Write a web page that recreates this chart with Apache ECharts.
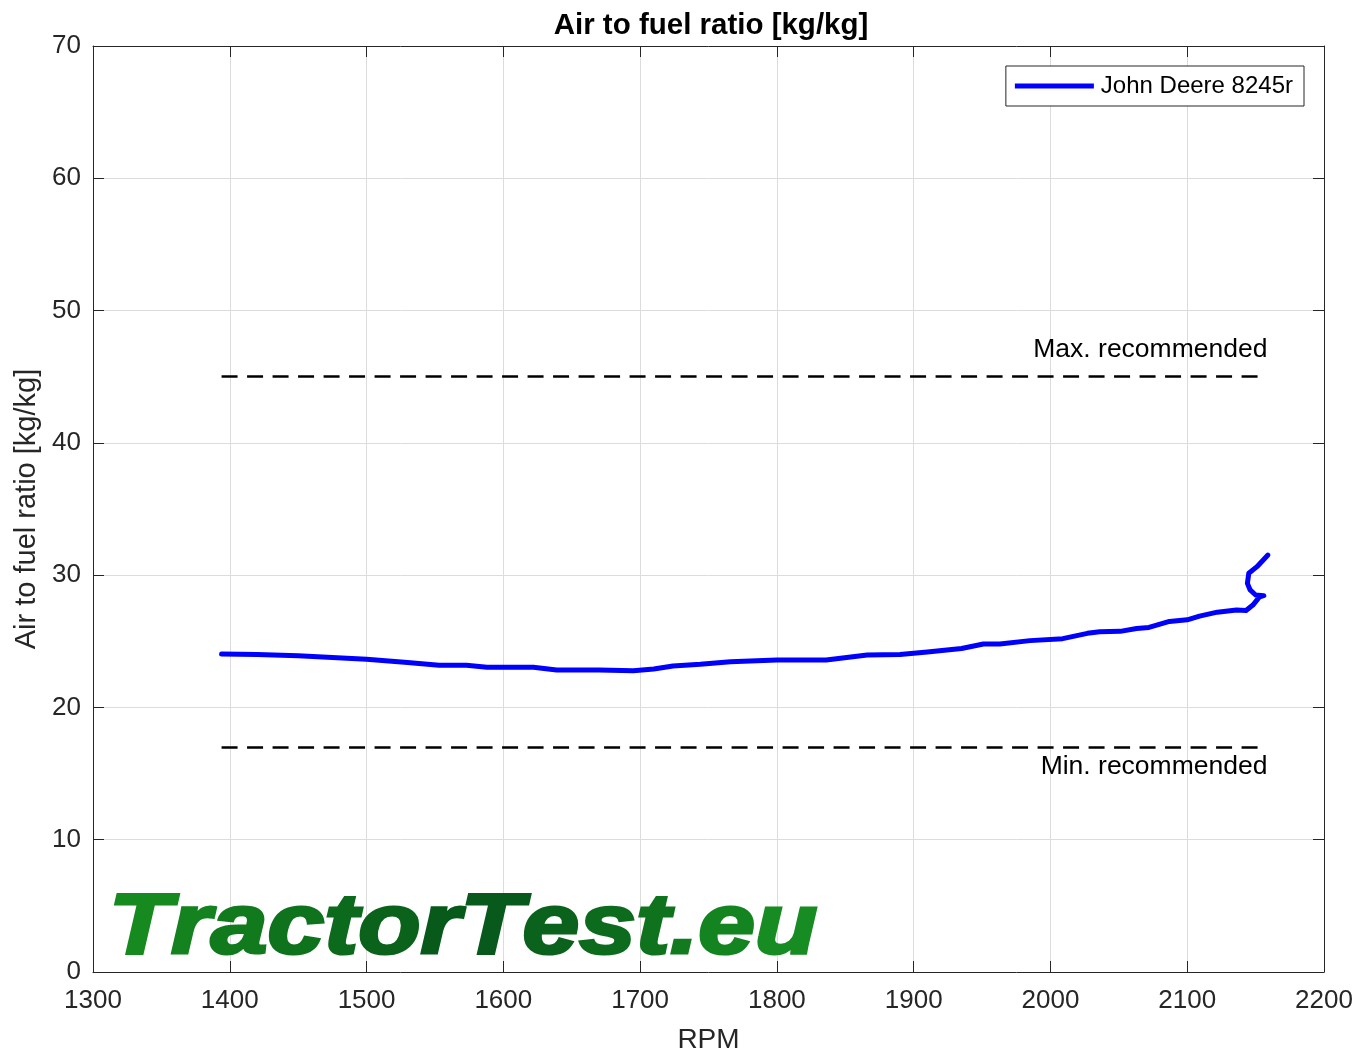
<!DOCTYPE html>
<html>
<head>
<meta charset="utf-8">
<script src="https://cdn.jsdelivr.net/npm/echarts@6/dist/echarts.min.js"></script>
<style>html,body{margin:0;padding:0;background:#fff}#c{width:1359px;height:1056px}</style>
</head>
<body>
<div id="c"></div>
<script>
var seriesName = 'John Deere 8245r';
var rpm = [1394,1420,1450,1500,1530,1553,1573,1588,1622,1639,1670,1695,1710,1724,1744,1766,1800,1836,1866,1890,1910,1935,1951,1963,1985,2009,2027,2036,2051,2063,2072,2087,2100,2109,2122,2136,2143,2148,2153,2156,2150,2146,2144,2145,2151,2159];
var afr = [24.04,24.0,23.9,23.64,23.4,23.18,23.18,23.03,23.03,22.83,22.82,22.78,22.9,23.13,23.26,23.46,23.58,23.58,23.96,24.0,24.19,24.45,24.79,24.79,25.05,25.2,25.6,25.72,25.75,25.97,26.05,26.5,26.62,26.9,27.2,27.36,27.33,27.74,28.37,28.45,28.5,28.88,29.38,30.14,30.64,31.52];
var maxRec = {name:'Max. recommended', value:45, from:1394, to:2155};
var minRec = {name:'Min. recommended', value:17, from:1394, to:2155};
var xTicks = {min:1300, max:2200, interval:100};
var yTicks = {min:0, max:70, interval:10};
var logoText = 'TractorTest.eu';

var curve = rpm.map(function(r,i){return [r, afr[i]];});
var axisColor = '#262626';
var font = 'Liberation Sans, Arial, Helvetica, sans-serif';

function xAx(pos, show){
  return {type:'value', position:pos, min:xTicks.min, max:xTicks.max, interval:xTicks.interval,
    axisLine:{show:true, onZero:false, lineStyle:{color:axisColor, width:1}},
    axisTick:{show:true, inside:true, length:11, lineStyle:{color:axisColor}},
    axisLabel:{show:show, color:axisColor, fontSize:26, fontFamily:font, margin:16, formatter:function(v){return String(v);}},
    splitLine:{show:show, lineStyle:{color:'#dcdcdc', width:1}},
    name: show ? 'RPM' : '', nameLocation:'middle', nameGap:54,
    nameTextStyle:{color:axisColor, fontSize:28, fontFamily:font}};
}
function yAx(pos, show){
  return {type:'value', position:pos, min:yTicks.min, max:yTicks.max, interval:yTicks.interval,
    axisLine:{show:true, onZero:false, lineStyle:{color:axisColor, width:1}},
    axisTick:{show:true, inside:true, length:11, lineStyle:{color:axisColor}},
    axisLabel:{show:show, color:axisColor, fontSize:26, fontFamily:font, margin:12, padding:[5,0,0,0], formatter:function(v){return String(v);}},
    splitLine:{show:show, lineStyle:{color:'#dcdcdc', width:1}},
    name: show ? 'Air to fuel ratio [kg/kg]' : '', nameLocation:'middle', nameGap:52,
    nameTextStyle:{color:axisColor, fontSize:29, fontFamily:font}};
}
function recLine(r, pos, dist){
  return {type:'line', data:[], silent:true, xAxisIndex:0, yAxisIndex:0,
    markLine:{silent:true, symbol:['none','none'], animation:false,
      lineStyle:{color:'#000', type:[16,9.5], width:2.5},
      label:{show:true, position:pos, formatter:r.name, color:'#000', fontSize:26.5, fontFamily:font, distance:dist},
      data:[[{coord:[r.from, r.value]},{coord:[r.to, r.value]}]]}};
}

// logo: per-letter colours approximating the green gradient
function mix(a, b, t){
  var pa = [parseInt(a.substr(1,2),16), parseInt(a.substr(3,2),16), parseInt(a.substr(5,2),16)];
  var pb = [parseInt(b.substr(1,2),16), parseInt(b.substr(3,2),16), parseInt(b.substr(5,2),16)];
  return 'rgb(' + pa.map(function(v,i){return Math.round(v + (pb[i]-v)*t);}).join(',') + ')';
}
var rich = {}, richText = '';
for (var i = 0; i < logoText.length; i++) {
  var t = i / (logoText.length - 1);
  var col = t < 0.5 ? mix('#168a1f', '#06561a', t / 0.5) : mix('#06561a', '#178c22', (t - 0.5) / 0.5);
  rich['c' + i] = {fill:col, stroke:col, lineWidth:3, fontSize:85, fontWeight:'bold', fontStyle:'italic', fontFamily:'Liberation Sans, Arial, sans-serif'};
  richText += '{c' + i + '|' + logoText[i] + '}';
}

var chart = echarts.init(document.getElementById('c'), null, {renderer:'canvas'});
chart.setOption({
  animation:false,
  backgroundColor:'#fff',
  title:{text:'Air to fuel ratio [kg/kg]', left:706, top:6, textAlign:'center',
    textStyle:{color:'#000', fontSize:29.5, fontWeight:'bold', fontFamily:font}},
  grid:{left:93, right:35, top:46, bottom:84, containLabel:false, outerBoundsMode:'none'},
  legend:{data:[seriesName], right:55, top:66, icon:'rect', itemWidth:79, itemHeight:5,
    backgroundColor:'#fff', borderColor:'#262626', borderWidth:1, borderRadius:0,
    padding:[8,11,8,9],
    textStyle:{color:'#000', fontSize:24, fontFamily:font, padding:[0,0,0,2]}},
  xAxis:[xAx('bottom', true), xAx('top', false)],
  yAxis:[yAx('left', true), yAx('right', false)],
  graphic:[{type:'text', left:107, top:886, z:5, scaleX:1.2,
    style:{text:richText, rich:rich, font:'italic bold 85px Liberation Sans, Arial, sans-serif'}}],
  series:[
    recLine(maxRec, 'insideEndTop', [-5, 14]),
    recLine(minRec, 'insideEndBottom', [-5, 6]),
    {name:seriesName, type:'line', data:curve, showSymbol:false, symbol:'none', z:10,
      lineStyle:{color:'#0000ff', width:5, cap:'round', join:'round'}, itemStyle:{color:'#0000ff'}}
  ]
});
</script>
</body>
</html>
